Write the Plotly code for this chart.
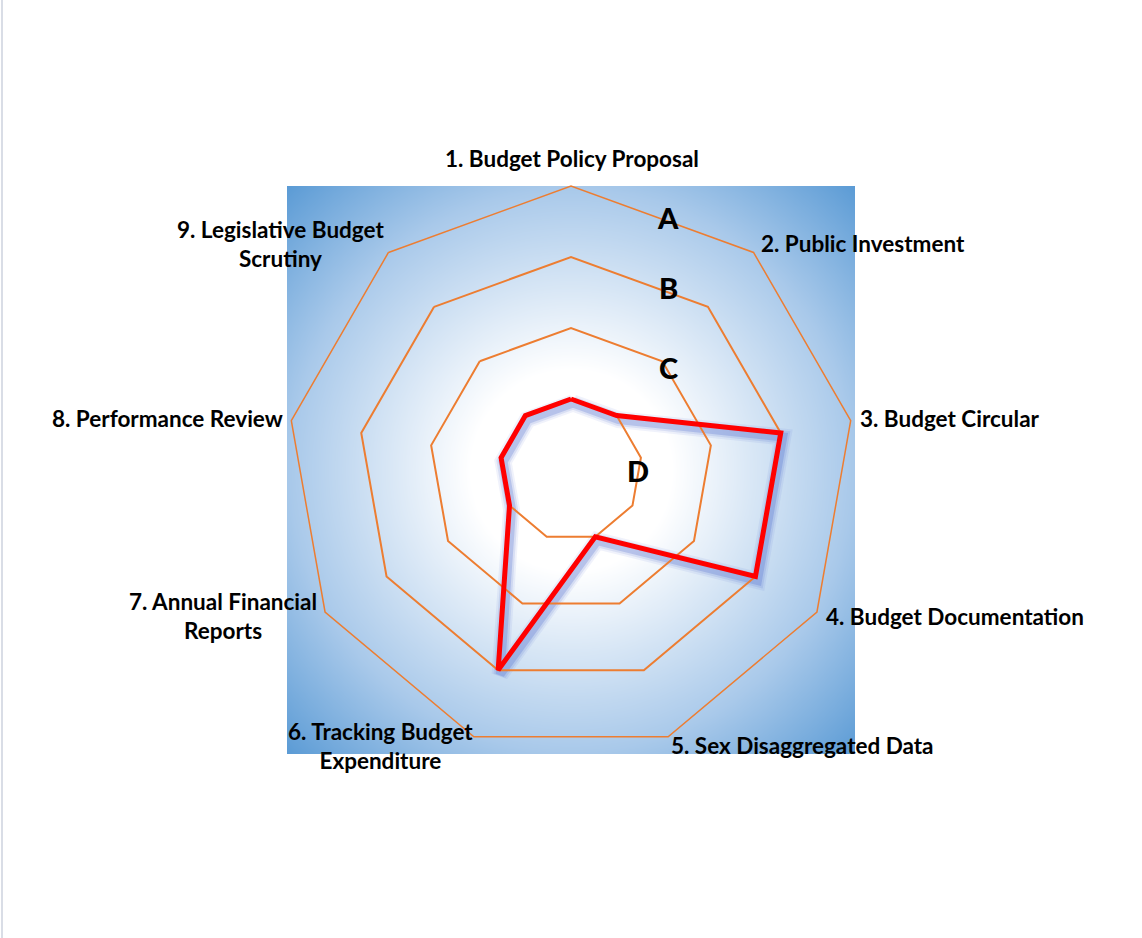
import numpy as np
import plotly.graph_objects as go

categories = ["1. Budget Policy Proposal", "2. Public Investment", "3. Budget Circular",
              "4. Budget Documentation", "5. Sex Disaggregated Data",
              "6. Tracking Budget<br>Expenditure", "7. Annual Financial<br>Reports",
              "8. Performance Review", "9. Legislative Budget<br>Scrutiny"]
scores = [1, 1, 3, 3, 1, 3, 1, 1, 1]
grade_labels = ["A", "B", "C", "D"]

W, H = 1142, 938
cx, cy, R = 571, 470, 284
dx0, dx1 = (cx - R) / W, (cx + R) / W
dy0, dy1 = 1 - (cy + R) / H, 1 - (cy - R) / H
sx, sy = 2 / W, 4 / H  # shadow offset

fig = go.Figure()

# radial gradient background (heatmap)
n = 160
g = np.linspace(-1, 1, n)
X, Y = np.meshgrid(g, g)
D = np.sqrt(X ** 2 + Y ** 2) / np.sqrt(2)
fig.add_trace(go.Heatmap(z=D, x=g, y=g, zmin=0, zmax=1, zsmooth="best", showscale=False,
                         hoverinfo="skip",
                         colorscale=[[0, "#ffffff"], [0.25, "#ffffff"], [0.7, "#a9c9ea"], [1, "#5b9bd5"]],
                         xaxis="x", yaxis="y"))

theta = categories + [categories[0]]
r = scores + [scores[0]]
for w, a in [(17, 0.08), (13, 0.12), (9, 0.22)]:
    fig.add_trace(go.Scatterpolar(r=r, theta=theta, mode="lines", subplot="polar",
                                  line=dict(color=f"rgba(60,90,200,{a})", width=w),
                                  hoverinfo="skip", showlegend=False))
fig.add_trace(go.Scatterpolar(r=r, theta=theta, mode="lines", subplot="polar2",
                              line=dict(color="#ff0000", width=5), showlegend=False))

common_ang = dict(rotation=90, direction="clockwise", showgrid=False, ticks="",
                  showticklabels=False, categoryorder="array", categoryarray=categories)

fig.update_layout(
    width=W, height=H, margin=dict(l=0, r=0, t=0, b=0),
    paper_bgcolor="white", plot_bgcolor="rgba(0,0,0,0)", showlegend=False,
    xaxis=dict(domain=[dx0, dx1], range=[-1, 1], visible=False, fixedrange=True),
    yaxis=dict(domain=[dy0, dy1], range=[-1, 1], visible=False, fixedrange=True),
    polar=dict(
        domain=dict(x=[dx0 + sx, dx1 + sx], y=[dy0 - sy, dy1 - sy]),
        bgcolor="rgba(0,0,0,0)", gridshape="linear",
        radialaxis=dict(range=[0, 4], showgrid=False, showticklabels=False, ticks="", showline=False),
        angularaxis=dict(showline=False, **common_ang),
    ),
    polar2=dict(
        domain=dict(x=[dx0, dx1], y=[dy0, dy1]),
        bgcolor="rgba(0,0,0,0)", gridshape="linear",
        radialaxis=dict(range=[0, 4], tickvals=[1, 2, 3], showticklabels=False, ticks="",
                        showline=False, gridcolor="#ed7d31", gridwidth=1.5),
        angularaxis=dict(showline=True, linecolor="#ed7d31", linewidth=1.5, **common_ang),
    ),
    font=dict(family="Lato"),
)

# category labels
lab_x = [572, 863, 950, 955, 802, 380, 223, 167, 280]
lab_y = [158, 243, 418, 616, 745, 746, 616, 418, 244]
for txt, lx, ly in zip(categories, lab_x, lab_y):
    fig.add_annotation(x=lx / W, y=1 - ly / H, xref="paper", yref="paper", text=txt,
                       showarrow=False, align="center", xanchor="center", yanchor="middle",
                       font=dict(family="Lato", size=22.5, color="black", weight="bold"))

grade_y = [218, 287, 367, 470]
grade_x = [668, 668, 668, 638]
for lab, gx, gy in zip(grade_labels, grade_x, grade_y):
    fig.add_annotation(x=gx / W, y=1 - gy / H, xref="paper", yref="paper", text=lab,
                       showarrow=False, xanchor="center", yanchor="middle",
                       font=dict(family="Lato", size=29, color="black", weight=900))

fig.add_shape(type="line", xref="paper", yref="paper", x0=2 / W, x1=2 / W, y0=0, y1=1,
              line=dict(color="#d9dde6", width=2))

fig.write_html("out.html")
